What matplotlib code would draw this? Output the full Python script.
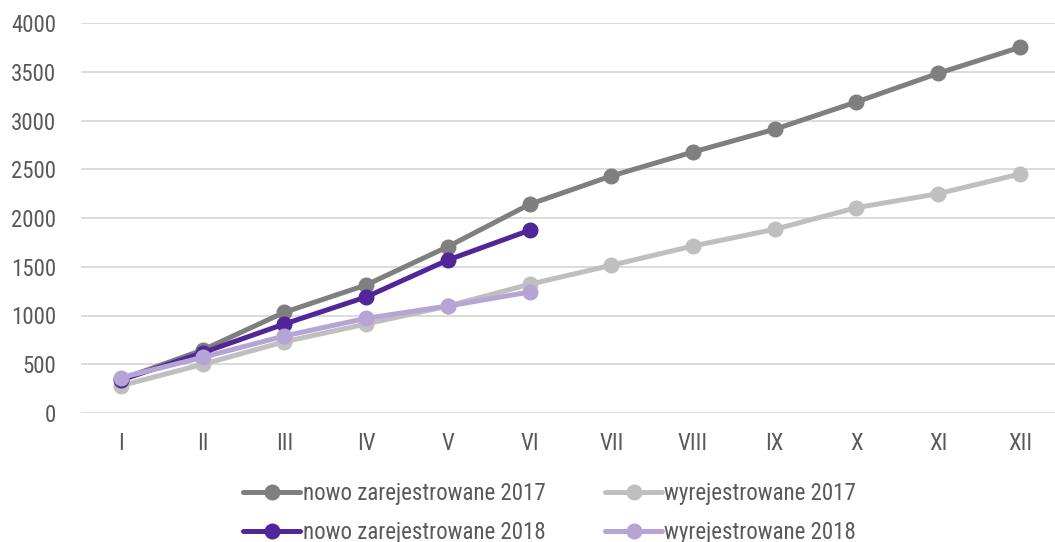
import matplotlib.pyplot as plt
from matplotlib import font_manager

# monthly cumulative counts
months = ['I', 'II', 'III', 'IV', 'V', 'VI', 'VII', 'VIII', 'IX', 'X', 'XI', 'XII']
nowo_2017 = [345, 646, 1033, 1313, 1706, 2140, 2431, 2677, 2910, 3190, 3484, 3750]
wyrej_2017 = [280, 499, 731, 913, 1097, 1320, 1515, 1713, 1884, 2106, 2249, 2451]
nowo_2018 = [338, 618, 913, 1190, 1569, 1874]
wyrej_2018 = [362, 571, 790, 971, 1097, 1241]

names = {f.name for f in font_manager.fontManager.ttflist}
family = [f for f in ['Roboto Condensed', 'Liberation Sans Narrow', 'DejaVu Sans Condensed'] if f in names]
plt.rcParams['font.family'] = family[:1] + ['DejaVu Sans']

fig = plt.figure(figsize=(10.55, 5.42), dpi=100)
ax = fig.add_axes([81 / 1055, 129 / 542, 974 / 1055, 390 / 542])

x17 = range(len(months))
x18 = range(len(nowo_2018))
style = dict(lw=3.6, marker='o', ms=10.5, solid_capstyle='round')
l1, = ax.plot(x17, nowo_2017, color='#7f7f7f', label='nowo zarejestrowane 2017', **style)
l2, = ax.plot(x17, wyrej_2017, color='#bfbfbf', label='wyrejestrowane 2017', **style)
l3, = ax.plot(x18, nowo_2018, color='#512698', label='nowo zarejestrowane 2018', **style)
l4, = ax.plot(x18, wyrej_2018, color='#b6a4d6', label='wyrejestrowane 2018', **style)

ax.set_xlim(-0.489, 11.43)
ax.set_ylim(0, 4000)
ax.set_yticks(range(0, 4001, 500))
ax.set_xticks(list(x17))
ax.set_xticklabels(months)
ax.grid(axis='y', color='#d9d9d9', lw=1.3)
ax.set_axisbelow(True)
for s in ax.spines.values():
    s.set_visible(False)
ax.tick_params(length=0, labelsize=16.5, colors='#595959')
ax.tick_params(axis='y', pad=18)
ax.tick_params(axis='x', pad=14)

fig.legend(handles=[l1, l3, l2, l4], ncol=2, loc='upper left',
           bbox_to_anchor=(243 / 1055, 60 / 542), frameon=False, fontsize=16.5,
           labelcolor='#595959', handlelength=2.5, handletextpad=0.1,
           columnspacing=2.6, labelspacing=0.7, borderpad=0, borderaxespad=0)

fig.savefig('out.png', dpi=100)
